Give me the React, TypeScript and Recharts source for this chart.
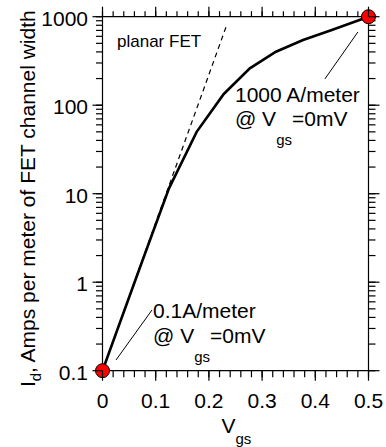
import React from 'react';
import { LineChart, Line, XAxis, YAxis, ReferenceDot, ReferenceLine } from 'recharts';

// ---- data ----
const solidX = [0, 0.025, 0.075, 0.125, 0.177, 0.228, 0.277, 0.326, 0.377, 0.431, 0.5];
const solidY = [0.1, 0.26, 1.75, 11.5, 50, 134, 261, 402, 546, 708, 1000];
const planarX = [0, 0.233];
const planarY = [0.1, 790];
const endpointX = [0, 0.5];
const endpointY = [0.1, 1000];

const xTicks = [0, 0.02, 0.04, 0.06, 0.08, 0.1, 0.12, 0.14, 0.16, 0.18, 0.2, 0.22, 0.24, 0.26, 0.28, 0.3, 0.32, 0.34, 0.36, 0.38, 0.4, 0.42, 0.44, 0.46, 0.48, 0.5];
const xTickLabels = ['0', '0.1', '0.2', '0.3', '0.4', '0.5'];
const yTicks = [0.1, 0.2, 0.3, 0.4, 0.5, 0.6, 0.7, 0.8, 0.9, 1, 2, 3, 4, 5, 6, 7, 8, 9, 10, 20, 30, 40, 50, 60, 70, 80, 90, 100, 200, 300, 400, 500, 600, 700, 800, 900, 1000];
const yTickLabels = ['0.1', '1', '10', '100', '1000'];

const solidData = solidX.map((x, i) => ({ x, y: solidY[i] }));
const planarData = planarX.map((x, i) => ({ x, y: planarY[i] }));

const FONT = '"Liberation Sans", Arial, Helvetica, sans-serif';
const MINOR_B = 6.5, MINOR_T = 5.5, MINOR_L = 6.5, MINOR_R = 7;

const isMajorX = (v: number) => Math.abs(v * 10 - Math.round(v * 10)) < 1e-6;
const isMajorY = (v: number) => Math.abs(Math.log10(v) - Math.round(Math.log10(v))) < 1e-6;

const BottomTick = (p: any) => {
  const v = p.payload.value;
  if (!isMajorX(v)) return <g />;
  const x = Number(p.x), y0 = Number(p.y) - MINOR_B;
  return (
    <g>
      <line x1={x} x2={x} y1={y0} y2={y0 + 10} stroke="#000" strokeWidth={1.2} />
      <text x={x} y={y0 + 37.5} textAnchor="middle" fontSize={21} fontFamily={FONT} fill="#000">
        {xTickLabels[Math.round(v * 10)]}
      </text>
    </g>
  );
};

const TopTick = (p: any) => {
  if (!isMajorX(p.payload.value)) return <g />;
  const x = Number(p.x), y0 = Number(p.y) + MINOR_T;
  return <line x1={x} x2={x} y1={y0} y2={y0 - 10} stroke="#000" strokeWidth={1.2} />;
};

const LeftTick = (p: any) => {
  const v = p.payload.value;
  if (!isMajorY(v)) return <g />;
  const x0 = Number(p.x) + MINOR_L, y = Number(p.y);
  return (
    <g>
      <line x1={x0} x2={x0 - 10} y1={y} y2={y} stroke="#000" strokeWidth={1.2} />
      <text x={x0 - 14.5} y={y + 9} textAnchor="end" fontSize={21} fontFamily={FONT} fill="#000">
        {yTickLabels[Math.round(Math.log10(v)) + 1]}
      </text>
    </g>
  );
};

const RightTick = (p: any) => {
  if (!isMajorY(p.payload.value)) return <g />;
  const x0 = Number(p.x) - MINOR_R, y = Number(p.y);
  return <line x1={x0} x2={x0 + 11} y1={y} y2={y} stroke="#000" strokeWidth={1.2} />;
};

const XLabel = (p: any) => {
  const vb = p.viewBox || {};
  const cx = vb.x + vb.width / 2 - 14;
  return (
    <text x={cx} y={vb.y + 62.5} fontFamily={FONT} fontSize={21} fill="#000">
      V<tspan dy={11} fontSize={15}>gs</tspan>
    </text>
  );
};

const YLabel = (p: any) => {
  const vb = p.viewBox || {};
  const cy = vb.y + vb.height / 2 + 5;
  const cx = 35;
  return (
    <text x={cx} y={cy} transform={`rotate(-90 ${cx} ${cy})`} textAnchor="middle" fontFamily={FONT} fontSize={21} fill="#000">
      I<tspan dy={6} fontSize={15}>d</tspan><tspan dy={-6}>, Amps per meter of FET channel width</tspan>
    </text>
  );
};

const textShape = (lines: React.ReactNode) => (p: any) => (
  <text x={p.cx} y={p.cy} fontFamily={FONT} fontSize={21} fill="#000">{lines}</text>
);

const tickLineStyle = { stroke: '#000', strokeWidth: 1.2 };
const axisLineStyle = { stroke: '#000', strokeWidth: 1.2 };

export default function App() {
  return (
    <div style={{ position: 'absolute', left: 0, top: 0, background: '#fff' }}>
      <LineChart width={386} height={447} margin={{ top: 6.7, right: 7.5, bottom: 46.3, left: 42.5 }}>
        <XAxis xAxisId="bottom" dataKey="x" type="number" domain={[0, 0.5]} ticks={xTicks} interval={0}
          height={30} tickSize={MINOR_B} tickMargin={0} stroke="#000" tickLine={tickLineStyle}
          axisLine={axisLineStyle} tick={BottomTick} label={{ content: <XLabel /> }} />
        <XAxis xAxisId="top" orientation="top" dataKey="x" type="number" domain={[0, 0.5]} ticks={xTicks} interval={0}
          height={10} tickSize={MINOR_T} tickMargin={0} stroke="#000" tickLine={tickLineStyle}
          axisLine={axisLineStyle} tick={TopTick} />
        <YAxis yAxisId="left" type="number" scale="log" domain={[0.1, 1000]} ticks={yTicks} interval={0}
          width={60} tickSize={MINOR_L} tickMargin={0} stroke="#000" tickLine={tickLineStyle}
          axisLine={axisLineStyle} tick={LeftTick} label={{ content: <YLabel /> }} />
        <YAxis yAxisId="right" orientation="right" type="number" scale="log" domain={[0.1, 1000]} ticks={yTicks} interval={0}
          width={10} tickSize={MINOR_R} tickMargin={0} stroke="#000" tickLine={tickLineStyle}
          axisLine={axisLineStyle} tick={RightTick} />

        {/* invisible series that binds the top and right frame axes */}
        <Line data={solidData} dataKey="y" xAxisId="top" yAxisId="right" type="linear" dot={false} activeDot={false}
          stroke="none" isAnimationActive={false} />

        <Line data={planarData} dataKey="y" xAxisId="bottom" yAxisId="left" type="linear" dot={false}
          stroke="#000" strokeWidth={1.2} strokeDasharray="5 4" isAnimationActive={false} />
        <Line data={solidData} dataKey="y" xAxisId="bottom" yAxisId="left" type="linear" dot={false}
          stroke="#000" strokeWidth={2.6} isAnimationActive={false} />

        <ReferenceLine xAxisId="bottom" yAxisId="left" segment={[{ x: 0.48, y: 671 }, { x: 0.418, y: 198 }]} stroke="#000" strokeWidth={1} />
        <ReferenceLine xAxisId="bottom" yAxisId="left" segment={[{ x: 0.093, y: 0.485 }, { x: 0.0254, y: 0.132 }]} stroke="#000" strokeWidth={1} />

        <ReferenceDot xAxisId="bottom" yAxisId="left" x={0.0273} y={458} r={0}
          shape={(p: any) => <text x={p.cx} y={p.cy} fontFamily={FONT} fontSize={17} fill="#000">planar FET</text>} />
        <ReferenceDot xAxisId="bottom" yAxisId="left" x={0.249} y={110} r={0}
          shape={textShape(<>1000 A/meter</>)} />
        <ReferenceDot xAxisId="bottom" yAxisId="left" x={0.249} y={58} r={0}
          shape={textShape(<>
            @ V<tspan dy={19} fontSize={15}>gs</tspan><tspan dy={-19}>=0mV</tspan>
          </>)} />
        <ReferenceDot xAxisId="bottom" yAxisId="left" x={0.0949} y={0.394} r={0}
          shape={textShape(<>0.1A/meter</>)} />
        <ReferenceDot xAxisId="bottom" yAxisId="left" x={0.0949} y={0.205} r={0}
          shape={textShape(<>
            @ V<tspan dy={19} fontSize={15}>gs</tspan><tspan dy={-19}>=0mV</tspan>
          </>)} />

        {endpointX.map((x, i) => (
          <ReferenceDot key={i} xAxisId="bottom" yAxisId="left" x={x} y={endpointY[i]} r={7}
            fill="#ff0000" stroke="#000" strokeWidth={1} ifOverflow="visible" />
        ))}
      </LineChart>
    </div>
  );
}
